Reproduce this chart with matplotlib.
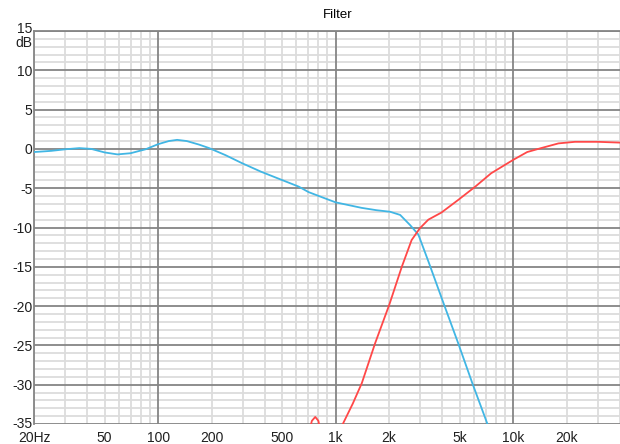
import matplotlib
matplotlib.use('Agg')
import matplotlib.pyplot as plt
import matplotlib.transforms as mtransforms
import numpy as np

# woofer (low pass) response
woofer_f = [20, 25, 30, 36, 42, 50, 59, 70, 85, 100, 115, 128, 145, 170, 194, 240, 296, 380,
            479, 545, 620, 705, 850, 1000, 1400, 1700, 2030, 2310, 2630, 2926, 3330, 4050,
            4900, 5890, 7140, 7600]
woofer_db = [-0.4, -0.25, -0.05, 0.1, 0.0, -0.45, -0.7, -0.55, -0.05, 0.6, 1.0, 1.15, 1.0, 0.55,
             0.1, -0.8, -1.8, -2.9, -3.8, -4.3, -4.8, -5.5, -6.2, -6.8, -7.5, -7.8, -8.0, -8.4,
             -9.7, -10.9, -14.3, -19.6, -24.7, -29.8, -34.9, -37]

# tweeter (high pass) response, nan breaks the line below the bottom
tweeter_f = [700, 735, 768, 800, 830, 900, 1050, 1109, 1250, 1405, 1671, 2008, 2360, 2680, 2982,
             3330, 3944, 4900, 6120, 7520, 10000, 12000, 14370, 18000, 22300, 30000, 40000]
tweeter_db = [-36.5, -34.6, -34.1, -34.6, -36.5, np.nan, -36, -34.8, -32.4, -29.8, -24.7, -19.8,
              -15.0, -11.6, -10.1, -9.0, -8.1, -6.5, -4.8, -3.1, -1.4, -0.4, 0.1, 0.7, 0.9, 0.9, 0.8]

xtick_vals = [20, 50, 100, 200, 500, 1000, 2000, 5000, 10000, 20000]
xtick_labels = ['20Hz', '50', '100', '200', '500', '1k', '2k', '5k', '10k', '20k']
ytick_vals = [15, 10, 5, 0, -5, -10, -15, -20, -25, -30, -35]

plt.rcParams['font.family'] = ['Liberation Sans', 'DejaVu Sans']

fig = plt.figure(figsize=(6.2, 4.44), dpi=100)
ax = fig.add_axes([34/620, 20/444, 1 - 34/620, (424-31)/444])

ax.set_xscale('log')
ax.set_xlim(20, 40000)
ax.set_ylim(-35, 15)

# grid
minor_x = [m * 10**e for e in range(1, 5) for m in range(2, 10) if 20 <= m * 10**e <= 40000]
for v in minor_x:
    ax.axvline(v, color='#dcdcdc', lw=1.3, zorder=0)
for v in range(-35, 16):
    if v % 5 != 0:
        ax.axhline(v, color='#dcdcdc', lw=1.3, zorder=0)
for v in [100, 1000, 10000]:
    ax.axvline(v, color='#858585', lw=1.3, zorder=1)
for v in ytick_vals:
    ax.axhline(v, color='#858585', lw=1.3, zorder=1)

ax.plot(woofer_f, woofer_db, color='#41b6e4', lw=1.3, zorder=3, clip_on=True)
ax.plot(tweeter_f, tweeter_db, color='#ff4848', lw=1.3, zorder=3, clip_on=True)

ax.set_xticks(xtick_vals)
ax.set_xticklabels(xtick_labels)
ax.xaxis.set_minor_locator(matplotlib.ticker.NullLocator())
ax.set_yticks(ytick_vals)
ax.set_yticklabels([str(v) for v in ytick_vals])
ax.tick_params(length=0, labelsize=10, colors='#202020')
ax.tick_params(axis='x', pad=5)
ax.tick_params(axis='y', pad=1)

# nudge the end labels like the original software does
ylabels = ax.get_yticklabels()
ylabels[0].set_transform(ylabels[0].get_transform() + mtransforms.ScaledTranslation(0, 4/100, fig.dpi_scale_trans))
ylabels[-1].set_transform(ylabels[-1].get_transform() + mtransforms.ScaledTranslation(0, 2/100, fig.dpi_scale_trans))

for s in ['right', 'bottom']:
    ax.spines[s].set_visible(False)
for s in ['left', 'top']:
    ax.spines[s].set_color('#858585')
    ax.spines[s].set_linewidth(1.3)

ax.text(-0.002, 0.969, 'dB', transform=ax.transAxes, ha='right', va='center', fontsize=10, color='#202020')
fig.text(338/620, 1 - 15/444, 'Filter', ha='center', va='center', fontsize=9.5)

plt.savefig('out.png', dpi=100)
